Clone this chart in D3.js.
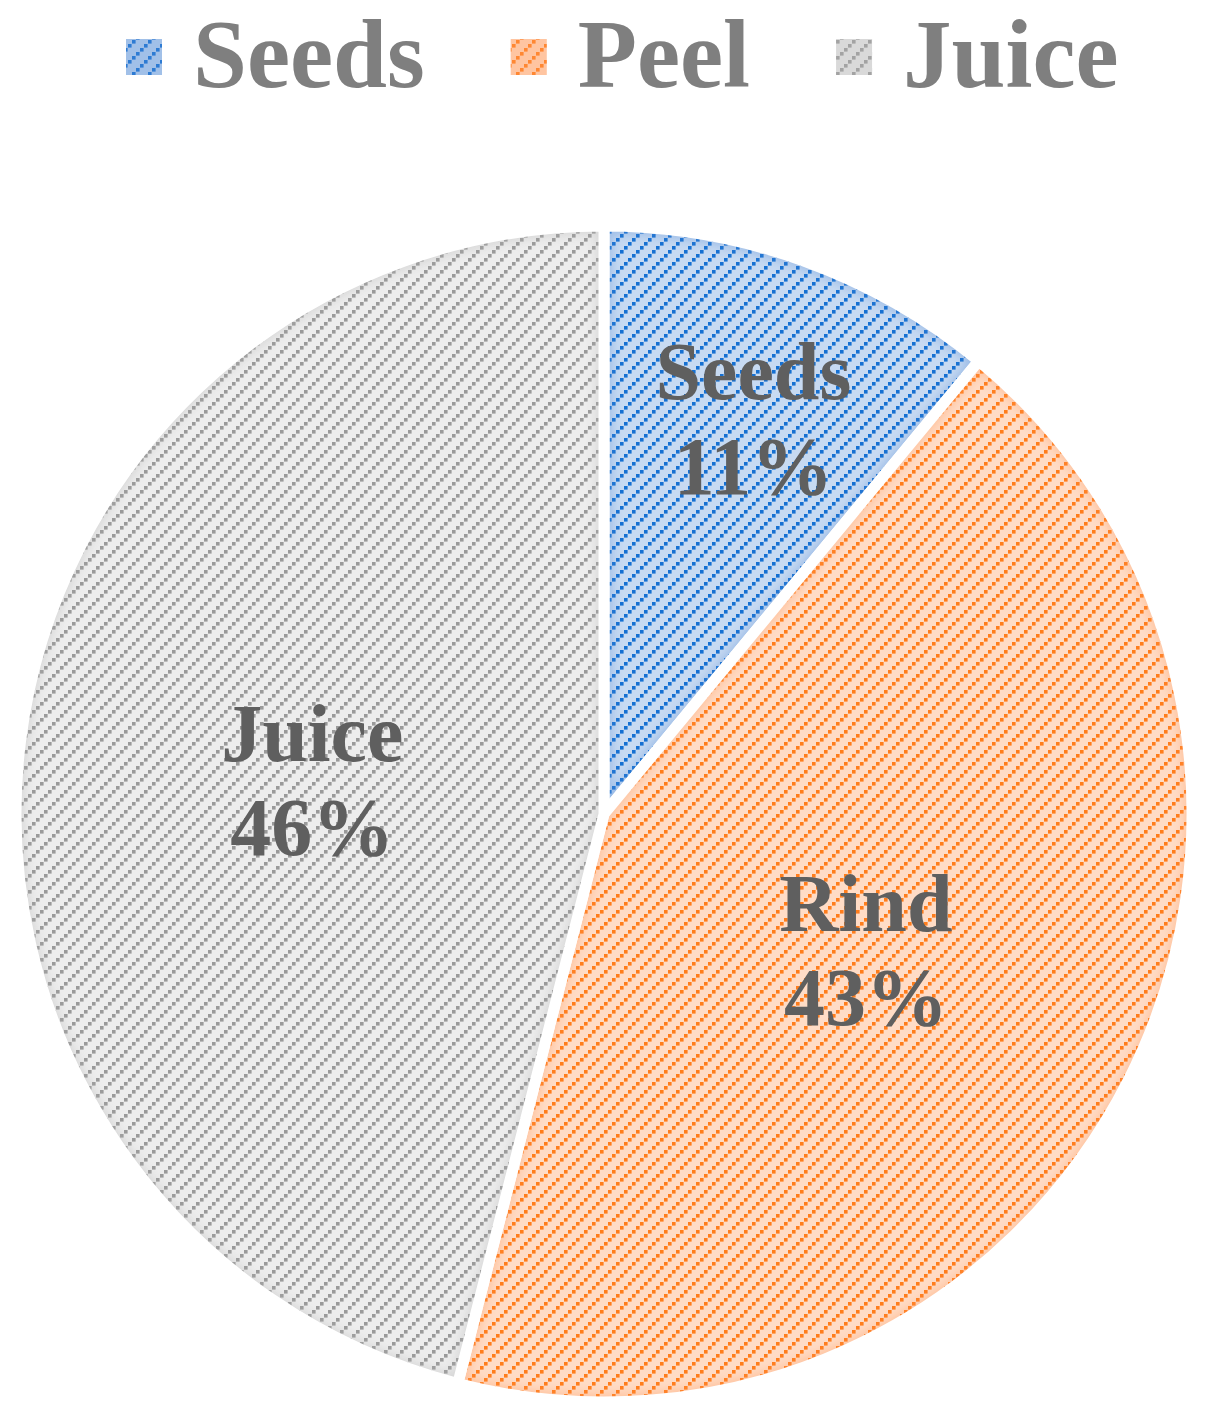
<!DOCTYPE html>
<html>
<head>
<meta charset="utf-8">
<script src="https://cdn.jsdelivr.net/npm/d3@7"></script>
<style>
  html, body { margin: 0; padding: 0; background: #ffffff; }
  svg { display: block; }
</style>
</head>
<body>
<svg id="chart" width="1207" height="1414"></svg>
<script>
// ---- data ----
const legendLabels = ["Seeds", "Peel", "Juice"];
const sliceLabels = ["Seeds", "Rind", "Juice"];
const values = [11, 43, 46];
const dotColors = ["#1570d2", "#ff7d1c", "#9a9a9a"];
const bgColors = ["#c7daf2", "#ffdcc6", "#ededed"];
const edgeColors = ["#5b8fd6", "#ff9a5c", "#b5b5b5"];

const W = 1207, H = 1414;
const cx = 604, cy = 814, R = 588;
const svg = d3.select("#chart");
const defs = svg.append("defs");

// hatch patterns (dotted upward diagonal)
const tile = 16, step = 4, dot = 3.6;
values.forEach((v, i) => {
  const p = defs.append("pattern")
    .attr("id", "pat" + i)
    .attr("patternUnits", "userSpaceOnUse")
    .attr("width", tile).attr("height", tile);
  p.append("rect").attr("width", tile).attr("height", tile).attr("fill", bgColors[i]);
  for (let k = 0; k <= tile / step; k++) {
    p.append("rect")
      .attr("x", k * step).attr("y", tile - step - k * step)
      .attr("width", dot).attr("height", dot).attr("fill", dotColors[i]);
  }
});

const blur = defs.append("filter").attr("id", "blur").attr("x", "-20%").attr("y", "-20%").attr("width", "140%").attr("height", "140%");
blur.append("feGaussianBlur").attr("stdDeviation", 6);

const pie = d3.pie().sort(null).value(d => d);
const arcs = pie(values);
const arc = d3.arc().innerRadius(0).outerRadius(R);

const g = svg.append("g").attr("transform", `translate(${cx},${cy})`);

arcs.forEach((a, i) => {
  const clip = defs.append("clipPath").attr("id", "clip" + i);
  clip.append("path").attr("d", arc(a));
  const sg = g.append("g");
  sg.append("path").attr("d", arc(a)).attr("fill", `url(#pat${i})`);
  // soft inner edge shading
  sg.append("g").attr("clip-path", `url(#clip${i})`)
    .append("path").attr("d", arc(a))
    .attr("fill", "none").attr("stroke", edgeColors[i]).attr("stroke-width", 14)
    .attr("opacity", 0.45).attr("filter", "url(#blur)");
  // white separators
  sg.append("path").attr("d", arc(a)).attr("fill", "none")
    .attr("stroke", "#ffffff").attr("stroke-width", 11).attr("stroke-linejoin", "miter");
});

// slice labels
const total = d3.sum(values);
const labelFont = "'Liberation Serif', 'Times New Roman', serif";
arcs.forEach((a, i) => {
  const share = values[i] / total;
  const lr = share < 0.15 ? R * 0.72 : R * 0.5;
  const mid = (a.startAngle + a.endAngle) / 2;
  const x = Math.sin(mid) * lr + (share < 0.15 ? 6 : 0), y = -Math.cos(mid) * lr;
  const t = g.append("text")
    .attr("x", x).attr("y", y)
    .attr("text-anchor", "middle")
    .attr("font-family", labelFont)
    .attr("font-weight", "bold")
    .attr("font-size", 82)
    .attr("fill", "#5f5f5f");
  t.append("tspan").attr("x", x).attr("dy", "-0.2em").text(sliceLabels[i]);
  t.append("tspan").attr("x", x).attr("dy", "1.15em").text(Math.round(share * 100) + "%");
});

// legend
const leg = svg.append("g");
let lx = 126;
const mSize = 36, legBase = 87;
legendLabels.forEach((name, i) => {
  leg.append("rect").attr("x", lx).attr("y", 39).attr("width", mSize).attr("height", mSize)
    .attr("fill", `url(#pat${i})`);
  leg.append("rect").attr("x", lx).attr("y", 39).attr("width", mSize).attr("height", mSize)
    .attr("fill", edgeColors[i]).attr("opacity", 0.35);
  const t = leg.append("text")
    .attr("x", lx + mSize + 31).attr("y", legBase)
    .attr("font-family", labelFont)
    .attr("font-weight", "bold")
    .attr("font-size", 97)
    .attr("fill", "#7f7f7f")
    .text(name);
  const w = t.node().getComputedTextLength();
  lx = lx + mSize + 31 + w + 86;
});
</script>
</body>
</html>
